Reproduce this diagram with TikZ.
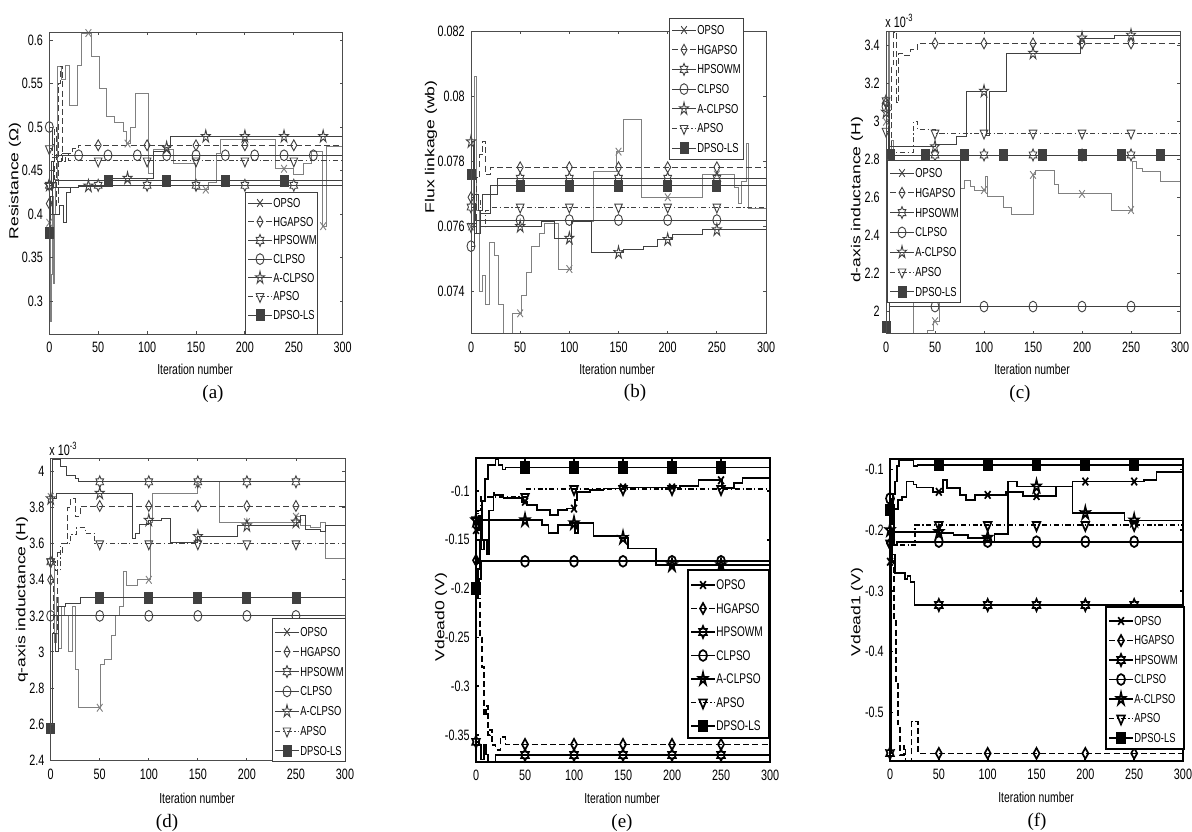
\documentclass[tikz,border=0pt]{standalone}
\usepackage{fontspec}
\setmainfont{Liberation Serif}
\newfontfamily\plotfont[FakeStretch=0.72]{Liberation Sans}
\newfontfamily\ylabfont[FakeStretch=1.35]{Liberation Sans}
\usetikzlibrary{plotmarks}

% matlab style marks
\pgfdeclareplotmark{vtri}{%
  \pgfpathmoveto{\pgfqpointpolar{270}{1.1\pgfplotmarksize}}%
  \pgfpathlineto{\pgfqpointpolar{30}{1.1\pgfplotmarksize}}%
  \pgfpathlineto{\pgfqpointpolar{150}{1.1\pgfplotmarksize}}%
  \pgfpathclose\pgfusepathqstroke}
\pgfdeclareplotmark{pent}{%
  \pgfpathmoveto{\pgfqpointpolar{90}{1.2\pgfplotmarksize}}%
  \pgfpathlineto{\pgfqpointpolar{126}{.45\pgfplotmarksize}}%
  \pgfpathlineto{\pgfqpointpolar{162}{1.2\pgfplotmarksize}}%
  \pgfpathlineto{\pgfqpointpolar{198}{.45\pgfplotmarksize}}%
  \pgfpathlineto{\pgfqpointpolar{234}{1.2\pgfplotmarksize}}%
  \pgfpathlineto{\pgfqpointpolar{270}{.45\pgfplotmarksize}}%
  \pgfpathlineto{\pgfqpointpolar{306}{1.2\pgfplotmarksize}}%
  \pgfpathlineto{\pgfqpointpolar{342}{.45\pgfplotmarksize}}%
  \pgfpathlineto{\pgfqpointpolar{18}{1.2\pgfplotmarksize}}%
  \pgfpathlineto{\pgfqpointpolar{54}{.45\pgfplotmarksize}}%
  \pgfpathclose\pgfusepathqstroke}
\pgfdeclareplotmark{hexa}{%
  \pgfpathmoveto{\pgfqpointpolar{90}{1.1\pgfplotmarksize}}%
  \pgfpathlineto{\pgfqpointpolar{120}{.63\pgfplotmarksize}}%
  \pgfpathlineto{\pgfqpointpolar{150}{1.1\pgfplotmarksize}}%
  \pgfpathlineto{\pgfqpointpolar{180}{.63\pgfplotmarksize}}%
  \pgfpathlineto{\pgfqpointpolar{210}{1.1\pgfplotmarksize}}%
  \pgfpathlineto{\pgfqpointpolar{240}{.63\pgfplotmarksize}}%
  \pgfpathlineto{\pgfqpointpolar{270}{1.1\pgfplotmarksize}}%
  \pgfpathlineto{\pgfqpointpolar{300}{.63\pgfplotmarksize}}%
  \pgfpathlineto{\pgfqpointpolar{330}{1.1\pgfplotmarksize}}%
  \pgfpathlineto{\pgfqpointpolar{0}{.63\pgfplotmarksize}}%
  \pgfpathlineto{\pgfqpointpolar{30}{1.1\pgfplotmarksize}}%
  \pgfpathlineto{\pgfqpointpolar{60}{.63\pgfplotmarksize}}%
  \pgfpathclose\pgfusepathqstroke}

% axes box with x ticks (data coordinates)
\newcommand\axesbox[4]{%
  \draw[#4] (0,#2) rectangle (300,#3);
  \foreach \xx [count=\k] in {0,50,...,300} {
    \draw[#4] (\xx,#2) -- ++(0,1.6pt) (\xx,#3) -- ++(0,-1.6pt);
    \node[ticklab, anchor=north] (#1x\k) at ([yshift=-4pt]\xx,#2) {\xx};
  }}
\newcommand\yticks[3]{%
  \foreach \v/\t [count=\k] in {#3} {
    \draw[#2] (0,\v) -- ++(1.6pt,0) (300,\v) -- ++(-1.6pt,0);
    \node[ticklab, anchor=east] (#1y\k) at ([xshift=-3pt]0,\v) {\t};
  }}
\newcommand\putmarks[3]{\draw[#1, mk] plot[only marks, mark=#2] coordinates {#3};}
\newcommand\rowmarkers[3]{\draw[#1, mk] plot[only marks, mark=#2, samples at={50,100,...,250}] (\x,#3);}
% legend in pixel coordinates
\newcommand\legendbox[9]{%
  \draw[#9, fill=white] (#2,#3) rectangle (#4,#5);
  \foreach \nm/\ls/\mk [count=\k] in {OPSO/solid/x, HGAPSO/hgdash/diamond, HPSOWM/solid/hexa,
      CLPSO/solid/o, A-CLPSO/solid/pent, APSO/apdash/vtri, DPSO-LS/solid/square*} {
    \pgfmathsetmacro\yy{#6+(\k-1)*#7}
    \draw[#9, \ls] (#2+3,\yy) -- (#2+27,\yy);
    \draw[#9, mk] plot[only marks, mark=\mk] coordinates {(#2+15,\yy)};
    \node[#8, anchor=west] (#1\k) at (#2+28,\yy) {\nm};
  }}

\begin{document}
\begin{tikzpicture}[x=0.5pt, y=-0.5pt,
    axframe/.style={black!70, line width=0.45pt},
    graycurve/.style={black!50, line width=0.45pt},
    darkcurve/.style={black!75, line width=0.45pt},
    heavy/.style={black, line width=0.85pt},
    hgdash/.style={dash pattern=on 3pt off 1.6pt},
    apdash/.style={dash pattern=on 2.6pt off 1.3pt on 0.6pt off 1.3pt},
    mk/.style={mark size=2pt, mark options={solid, yscale=1.35}},
    ticklab/.style={font=\plotfont\fontsize{7.5}{8}\selectfont, inner sep=0pt},
    xlab/.style={font=\plotfont\fontsize{7.2}{8}\selectfont, inner sep=0pt},
    ylab/.style={font=\ylabfont\fontsize{6.5}{7}\selectfont, rotate=90, inner sep=0pt},
    legtext/.style={font=\plotfont\fontsize{6.5}{7}\selectfont, inner sep=0pt},
    biglegtext/.style={font=\plotfont\fontsize{7}{8}\selectfont, inner sep=0pt},
    sublabel/.style={font=\fontsize{9.5}{11}\selectfont, inner sep=0pt}
  ]
\useasboundingbox (0,0) rectangle (1192,831);
\fill[white] (0,0) rectangle (1192,831);

% (a) resistance
\begin{scope}[shift={(49.3,562)}, x=0.489pt, y=435pt]
  \begin{scope}
    \clip (0,0.262) rectangle (300,0.609);
    \draw[graycurve] plot[const plot] coordinates {(0,0.39) (0.8,0.277) (2,0.33) (3,0.42) (4,0.32) (5,0.40) (6,0.44) (8,0.57) (12,0.555) (17,0.571) (21,0.525) (28.6,0.571) (32.4,0.608) (43,0.581) (51,0.544) (58.6,0.512) (67,0.505) (75.7,0.495) (79,0.481) (82.5,0.5) (87.6,0.539) (101,0.447) (106,0.474) (127,0.458) (149,0.428) (163,0.436) (171,0.47) (174.6,0.486) (230.8,0.452) (249.6,0.445) (260,0.458) (268,0.472) (279,0.386) (283,0.478) (300,0.478)};
    \draw[darkcurve, hgdash] plot[const plot] coordinates {(0,0.412) (3,0.44) (5,0.50) (7,0.41) (9,0.55) (11,0.57) (13,0.46) (17,0.47) (24,0.475) (30,0.479) (300,0.479)};
    \draw[darkcurve] plot[const plot] coordinates {(0,0.433) (3,0.40) (10,0.41) (14,0.39) (18,0.425) (22,0.43) (30,0.433) (300,0.433)};
    \draw[darkcurve] plot[const plot] coordinates {(0,0.5) (3,0.48) (5,0.4675) (300,0.4675)};
    \draw[darkcurve] plot[const plot] coordinates {(0,0.433) (2,0.46) (4,0.43) (30,0.432) (60,0.434) (65,0.441) (105,0.441) (107,0.472) (118,0.476) (124,0.489) (300,0.489)};
    \draw[darkcurve, apdash] plot[const plot] coordinates {(0,0.475) (3,0.465) (8,0.46) (12,0.47) (20,0.461) (300,0.461)};
    \draw[darkcurve] plot[const plot] coordinates {(0,0.378) (1,0.42) (3,0.436) (6,0.438) (300,0.438)};
  \end{scope}
  \putmarks{graycurve}{x}{(0,0.39) (40,0.608) (80,0.481) (120,0.474) (160,0.428) (240,0.452) (280,0.386)}
  \putmarks{darkcurve}{diamond}{(0,0.412)} \rowmarkers{darkcurve}{diamond}{0.479}
  \putmarks{darkcurve}{hexa}{(0,0.433)} \rowmarkers{darkcurve}{hexa}{0.433}
  \draw[darkcurve, mk] plot[only marks, mark=o, samples at={30,60,...,270}] (\x,0.4675);
  \putmarks{darkcurve}{o}{(0,0.5)}
  \putmarks{darkcurve}{pent}{(0,0.433) (40,0.432) (80,0.441) (120,0.476) (160,0.489) (200,0.489) (240,0.489) (280,0.489)}
  \putmarks{darkcurve}{vtri}{(0,0.475)} \rowmarkers{darkcurve}{vtri}{0.461}
  \putmarks{darkcurve}{square*}{(0,0.378) (60,0.438) (120,0.438) (180,0.438) (240,0.438)}
  \axesbox{a}{0.262}{0.609}{axframe}
  \yticks{a}{axframe}{0.3/0.3, 0.35/0.35, 0.4/0.4, 0.45/0.45, 0.5/0.5, 0.55/0.55, 0.6/0.6}
\end{scope}
\legendbox{la}{245}{192}{317}{334}{203}{18.7}{legtext}{darkcurve}

% (b) flux linkage, values x 1e-3
\begin{scope}[shift={(471,2704.2)}, x=0.4917pt, y=16.3pt]
  \begin{scope}
    \clip (0,72.71) rectangle (300,82);
    \draw[graycurve] plot[const plot] coordinates {(0,76) (2,78.5) (4,80.6) (6,76.5) (9,74) (12,74.5) (15,73.6) (19,75.5) (24,75.1) (28,73.6) (33,72.7) (42,73.34) (51.5,73.9) (56.6,74.6) (61,75.4) (70,75.8) (75,76.1) (89,74.7) (102,76.15) (125,77.7) (148,78.3) (155,79.3) (173,76.9) (235,77.6) (268,77.2) (272,76.7) (275,77.4) (280,78.55) (282,76.55) (300,76.55)};
    \draw[darkcurve, hgdash] plot[const plot] coordinates {(0,76.9) (3,75.8) (6,77.5) (9,78.2) (12,78.6) (15,77.6) (20,77.82) (300,77.82)};
    \draw[darkcurve] plot[const plot] coordinates {(0,76.6) (5,76.2) (10,76.4) (20,77.0) (27,77.48) (300,77.48)};
    \draw[darkcurve] plot[const plot] coordinates {(0,75.4) (3,76.3) (6,75.8) (10,76.2) (300,76.2)};
    \draw[darkcurve] plot[const plot] coordinates {(0,78.6) (3,76.1) (6,75.8) (10,76.0) (72,76.15) (85,75.64) (102,76.15) (122,75.2) (155,75.3) (175,75.4) (190,75.6) (205,75.75) (235,75.9) (300,75.9)};
    \draw[darkcurve, apdash] plot[const plot] coordinates {(0,76.0) (5,76.8) (10,76.0) (15,76.5) (20,76.6) (300,76.6)};
    \draw[darkcurve] plot[const plot] coordinates {(0,77.6) (2,78.5) (4,77) (8,76.5) (12,77.0) (20,77.25) (300,77.25)};
  \end{scope}
  \putmarks{graycurve}{x}{(0,76) (50,73.34) (100,74.7) (150,78.3) (200,76.9) (250,77.6)}
  \putmarks{darkcurve}{diamond}{(0,76.9)} \rowmarkers{darkcurve}{diamond}{77.82}
  \putmarks{darkcurve}{hexa}{(0,76.6)} \rowmarkers{darkcurve}{hexa}{77.48}
  \putmarks{darkcurve}{o}{(0,75.4)} \rowmarkers{darkcurve}{o}{76.2}
  \putmarks{darkcurve}{pent}{(0,78.6) (50,76.0) (100,75.64) (150,75.2) (200,75.6) (250,75.9)}
  \putmarks{darkcurve}{vtri}{(0,76.0)} \rowmarkers{darkcurve}{vtri}{76.6}
  \putmarks{darkcurve}{square*}{(0,77.6)} \rowmarkers{darkcurve}{square*}{77.25}
  \axesbox{b}{72.71}{82}{axframe}
  \yticks{b}{axframe}{74/0.074, 76/0.076, 78/0.078, 80/0.08, 82/0.082}
\end{scope}
\legendbox{lb}{669}{18}{743}{159}{30}{19.7}{legtext}{darkcurve}

% (c) d-axis inductance, values x 1e-3
\begin{scope}[shift={(886,691.7)}, x=0.49pt, y=95pt]
  \begin{scope}
    \clip (0,1.883) rectangle (300,3.477);
    \draw[graycurve] plot[const plot] coordinates {(0,3.0) (2,3.47) (4,2.6) (6,2.9) (8,2.05) (28,1.88) (32,1.85) (42,1.9) (48,1.95) (55,2.1) (70,2.5) (75,2.65) (80,2.69) (86,2.66) (90,2.64) (101,2.71) (103,2.605) (120,2.55) (128,2.51) (150,2.72) (152,2.745) (172,2.67) (176,2.62) (230,2.535) (251,2.79) (256,2.755) (262,2.74) (280,2.685) (300,2.685)};
    \draw[darkcurve, hgdash] plot[const plot] coordinates {(0,3.1) (3,2.83) (6,3.3) (8,3.47) (11,3.1) (13,3.36) (17,3.35) (25,3.38) (32,3.412) (300,3.412)};
    \draw[darkcurve] plot[const plot] coordinates {(0,3.11) (2,2.9) (4,2.825) (300,2.825)};
    \draw[darkcurve] plot[const plot] coordinates {(0,3.08) (2,2.5) (3,2.027) (300,2.027)};
    \draw[darkcurve] plot[const plot] coordinates {(0,3.05) (3,2.868) (50,2.88) (72,2.92) (82,3.16) (102,2.93) (106,3.16) (123,3.36) (198,3.44) (233,3.455) (300,3.455)};
    \draw[darkcurve, apdash] plot[const plot] coordinates {(0,2.95) (3,2.84) (28,3.0) (32,2.96) (50,2.94) (300,2.94)};
    \draw[darkcurve] plot[const plot] coordinates {(0,1.92) (3,2.825) (300,2.825)};
  \end{scope}
  \putmarks{graycurve}{x}{(0,3.0) (50,1.95) (100,2.64) (150,2.72) (200,2.62) (250,2.535)}
  \putmarks{darkcurve}{diamond}{(0,3.1)} \rowmarkers{darkcurve}{diamond}{3.412}
  \putmarks{darkcurve}{hexa}{(0,3.11)} \rowmarkers{darkcurve}{hexa}{2.825}
  \putmarks{darkcurve}{o}{(0,3.08)} \rowmarkers{darkcurve}{o}{2.027}
  \putmarks{darkcurve}{pent}{(0,3.05) (50,2.868) (100,3.16) (150,3.36) (200,3.44) (250,3.455)}
  \putmarks{darkcurve}{vtri}{(0,2.95)} \rowmarkers{darkcurve}{vtri}{2.94}
  \draw[darkcurve, mk] plot[only marks, mark=square*, samples at={40,80,...,280}] (\x,2.825);
  \putmarks{darkcurve}{square*}{(0,1.92) (5,2.825)}
  \axesbox{c}{1.883}{3.477}{axframe}
  \yticks{c}{axframe}{2/2, 2.2/2.2, 2.4/2.4, 2.6/2.6, 2.8/2.8, 3/3, 3.2/3.2, 3.4/3.4}
\end{scope}
\legendbox{lc}{887}{160}{960}{302}{173}{19.8}{legtext}{darkcurve}

% (d) q-axis inductance, values x 1e-3
\begin{scope}[shift={(50.7,1192.5)}, x=0.4905pt, y=90.1pt]
  \begin{scope}
    \clip (0,2.395) rectangle (300,4.076);
    \draw[graycurve] plot[const plot] coordinates {(0,3.86) (2,3.5) (4,3.05) (6,3.3) (8,3.02) (11,3.25) (14,3.2) (18,3.0) (22,3.25) (25,2.9) (28,2.69) (51,2.93) (55,2.96) (62,3.09) (66,3.2) (70,3.25) (74,3.445) (77,3.37) (88,3.4) (102,3.72) (104,3.88) (150,3.944) (172,3.72) (250,3.75) (255,3.7) (265,3.69) (275,3.72) (280,3.52) (300,3.52)};
    \draw[darkcurve, hgdash] plot[const plot] coordinates {(0,3.4) (3,3.1) (7,3.55) (12,3.6) (17,3.8) (20,3.85) (25,3.75) (30,3.81) (300,3.81)};
    \draw[darkcurve] plot[const plot] coordinates {(0,3.5) (2,4.07) (10,4.03) (16,3.98) (25,3.96) (28,3.944) (300,3.944)};
    \draw[darkcurve] plot[const plot] coordinates {(0,3.2) (300,3.2)};
    \draw[darkcurve] plot[const plot] coordinates {(0,3.85) (6,3.88) (83,3.63) (86,3.66) (90,3.71) (100,3.73) (113,3.74) (122,3.61) (150,3.64) (190,3.7) (250,3.72) (255,3.76) (260,3.68) (275,3.67) (280,3.7) (300,3.7)};
    \draw[darkcurve, apdash] plot[const plot] coordinates {(0,3.5) (5,3.45) (10,3.6) (20,3.65) (26,3.69) (35,3.66) (45,3.6) (300,3.6)};
    \draw[darkcurve] plot[const plot] coordinates {(0,2.575) (2,3.1) (5,3.0) (8,3.25) (15,3.27) (30,3.3) (300,3.3)};
  \end{scope}
  \putmarks{graycurve}{x}{(0,3.86) (50,2.69) (100,3.4) (150,3.93) (200,3.72) (250,3.75)}
  \putmarks{darkcurve}{diamond}{(0,3.4)} \rowmarkers{darkcurve}{diamond}{3.81}
  \putmarks{darkcurve}{hexa}{(0,3.5)} \rowmarkers{darkcurve}{hexa}{3.944}
  \putmarks{darkcurve}{o}{(0,3.2)} \rowmarkers{darkcurve}{o}{3.2}
  \putmarks{darkcurve}{pent}{(0,3.85) (50,3.88) (100,3.73) (150,3.64) (200,3.7) (250,3.72)}
  \putmarks{darkcurve}{vtri}{(0,3.5)} \rowmarkers{darkcurve}{vtri}{3.6}
  \putmarks{darkcurve}{square*}{(0,2.575)} \rowmarkers{darkcurve}{square*}{3.3}
  \axesbox{d}{2.395}{4.076}{axframe}
  \yticks{d}{axframe}{2.4/2.4, 2.6/2.6, 2.8/2.8, 3/3, 3.2/3.2, 3.4/3.4, 3.6/3.6, 3.8/3.8, 4/4}
\end{scope}
\legendbox{ld}{272}{618}{345}{761}{632}{19.8}{legtext}{darkcurve}

% (e) vdead0
\begin{scope}[shift={(476,393.4)}, x=0.49pt, y=488pt]
  \begin{scope}
    \clip (0,-0.3777) rectangle (300,-0.066);
    \draw[heavy] plot[const plot] coordinates {(0,-0.14) (3,-0.125) (5,-0.16) (8,-0.15) (11,-0.165) (13,-0.12) (17.7,-0.102) (19,-0.104) (28,-0.107) (46.6,-0.111) (51.7,-0.114) (62,-0.1195) (75.5,-0.1246) (84,-0.1195) (92.5,-0.118) (101,-0.109) (103,-0.1007) (116,-0.099) (130,-0.0973) (150,-0.0963) (208,-0.095) (227,-0.089) (251,-0.097) (263,-0.092) (272,-0.087) (300,-0.087)};
    \draw[heavy, hgdash] plot[const plot] coordinates {(0,-0.171) (2,-0.21) (4,-0.25) (6,-0.28) (8,-0.33) (10,-0.32) (12,-0.35) (14,-0.345) (16,-0.36) (20,-0.365) (25,-0.352) (30,-0.3596) (300,-0.3596)};
    \draw[heavy] plot[const plot] coordinates {(0,-0.357) (3,-0.36) (5,-0.375) (8,-0.36) (10,-0.37) (12,-0.378) (20,-0.3705) (300,-0.3705)};
    \draw[heavy] plot[const plot] coordinates {(0,-0.2) (3,-0.19) (5,-0.172) (300,-0.172)};
    \draw[heavy] plot[const plot] coordinates {(0,-0.13) (67,-0.135) (74,-0.143) (84,-0.135) (96,-0.133) (101,-0.143) (104,-0.133) (120,-0.146) (147,-0.148) (155,-0.159) (184,-0.176) (300,-0.176)};
    \draw[heavy, apdash] plot[const plot] coordinates {(0,-0.13) (2,-0.12) (5,-0.106) (52,-0.098) (300,-0.0975)};
    \draw[heavy] plot[const plot] coordinates {(0,-0.2) (2,-0.18) (4,-0.15) (6,-0.11) (9,-0.088) (12,-0.073) (20,-0.067) (23,-0.073) (27,-0.078) (30,-0.0758) (300,-0.0758)};
  \end{scope}
  \putmarks{heavy}{x}{(0,-0.14) (50,-0.111) (100,-0.118) (150,-0.0963) (200,-0.0963) (250,-0.089)}
  \putmarks{heavy}{diamond}{(0,-0.171)} \rowmarkers{heavy}{diamond}{-0.3596}
  \putmarks{heavy}{hexa}{(0,-0.357)} \rowmarkers{heavy}{hexa}{-0.3705}
  \rowmarkers{heavy}{o}{-0.172}
  \putmarks{heavy}{pent}{(0,-0.13) (50,-0.13) (100,-0.133) (150,-0.148) (200,-0.176) (250,-0.176)}
  \putmarks{heavy}{vtri}{(0,-0.13) (50,-0.106) (100,-0.098) (150,-0.098) (200,-0.098) (250,-0.098)}
  \putmarks{heavy}{square*}{(0,-0.2)} \rowmarkers{heavy}{square*}{-0.0758}
  \axesbox{e}{-0.3777}{-0.066}{heavy}
  \yticks{e}{heavy}{-0.35/-0.35, -0.3/-0.3, -0.25/-0.25, -0.2/-0.2, -0.15/-0.15, -0.1/-0.1}
\end{scope}
\legendbox{le}{688}{570}{769}{738}{585}{23.5}{biglegtext}{heavy}

% (f) vdead1
\begin{scope}[shift={(890,408.6)}, x=0.4883pt, y=303.75pt]
  \begin{scope}
    \clip (0,-0.58) rectangle (300,-0.083);
    \draw[heavy] plot[const plot] coordinates {(0,-0.252) (2,-0.2) (4,-0.165) (8,-0.15) (12,-0.145) (17,-0.12) (24,-0.125) (27,-0.13) (44,-0.137) (54,-0.1176) (58,-0.131) (71.6,-0.142) (78,-0.15) (87,-0.142) (119,-0.137) (136,-0.144) (170,-0.128) (187,-0.12) (260,-0.117) (273,-0.104) (300,-0.104)};
    \draw[heavy, hgdash] plot[const plot] coordinates {(0,-0.222) (2,-0.25) (4,-0.35) (6,-0.45) (8,-0.52) (10,-0.57) (14,-0.555) (16,-0.59) (22,-0.515) (29,-0.5675) (300,-0.5675)};
    \draw[heavy] plot[const plot] coordinates {(0,-0.567) (1.5,-0.24) (5,-0.271) (15,-0.28) (18,-0.275) (21,-0.285) (25,-0.3233) (300,-0.3233)};
    \draw[heavy] plot[const plot] coordinates {(0,-0.148) (2,-0.19) (4,-0.225) (7,-0.219) (300,-0.219)};
    \draw[heavy] plot[const plot] coordinates {(0,-0.2) (2,-0.2026) (50,-0.205) (65,-0.208) (80,-0.2125) (102,-0.219) (107,-0.206) (121,-0.12) (130,-0.128) (187,-0.172) (240,-0.184) (300,-0.184)};
    \draw[heavy, apdash] plot[const plot] coordinates {(0,-0.222) (2,-0.225) (25.6,-0.192) (300,-0.1916)};
    \draw[heavy] plot[const plot] coordinates {(0,-0.167) (3,-0.14) (5,-0.12) (7,-0.095) (9,-0.085) (24,-0.095) (28,-0.093) (300,-0.093)};
  \end{scope}
  \putmarks{heavy}{x}{(0,-0.252) (50,-0.137) (100,-0.142) (150,-0.144) (200,-0.12) (250,-0.12)}
  \putmarks{heavy}{diamond}{(0,-0.222)} \rowmarkers{heavy}{diamond}{-0.5675}
  \putmarks{heavy}{hexa}{(0,-0.567)} \rowmarkers{heavy}{hexa}{-0.3233}
  \putmarks{heavy}{o}{(0,-0.148)} \rowmarkers{heavy}{o}{-0.219}
  \putmarks{heavy}{pent}{(0,-0.2) (50,-0.203) (100,-0.2125) (150,-0.128) (200,-0.172) (250,-0.184)}
  \putmarks{heavy}{vtri}{(0,-0.222)} \rowmarkers{heavy}{vtri}{-0.1916}
  \putmarks{heavy}{square*}{(0,-0.167)} \rowmarkers{heavy}{square*}{-0.093}
  \axesbox{f}{-0.58}{-0.083}{heavy}
  \yticks{f}{heavy}{-0.5/-0.5, -0.4/-0.4, -0.3/-0.3, -0.2/-0.2, -0.1/-0.1}
\end{scope}
\legendbox{lf}{1106}{607}{1184}{749}{621}{19.5}{legtext}{heavy}

% axis titles and sub-figure labels
\node[ylab] (ya) at (15,181) {Resistance (Ω)};
\node[ylab] (yb) at (431,147) {Flux linkage (wb)};
\node[ylab] (yc) at (857,200) {d-axis inductance (H)};
\node[ylab] (yd) at (22,600) {q-axis inductance (H)};
\node[ylab] (ye) at (441,617) {Vdead0 (V)};
\node[ylab] (yf) at (857,612) {Vdead1 (V)};
\node[ticklab, anchor=west] (expc) at (885,21) {x 10\textsuperscript{-3}};
\node[ticklab, anchor=west] (expd) at (49,449) {x 10\textsuperscript{-3}};
\foreach \px/\py/\nm in {195/369/a, 617/369/b, 1032/369/c, 197/798/d, 622/798/e, 1036/797/f}
  \node[xlab] (it\nm) at (\px,\py) {Iteration number};
\foreach \px/\py/\nm in {213/394/a, 635/393/b, 1020/394/c, 167/823/d, 622/823/e, 1037/822/f}
  \node[sublabel] (sub\nm) at (\px,\py) {(\nm)};
\end{tikzpicture}
\end{document}
